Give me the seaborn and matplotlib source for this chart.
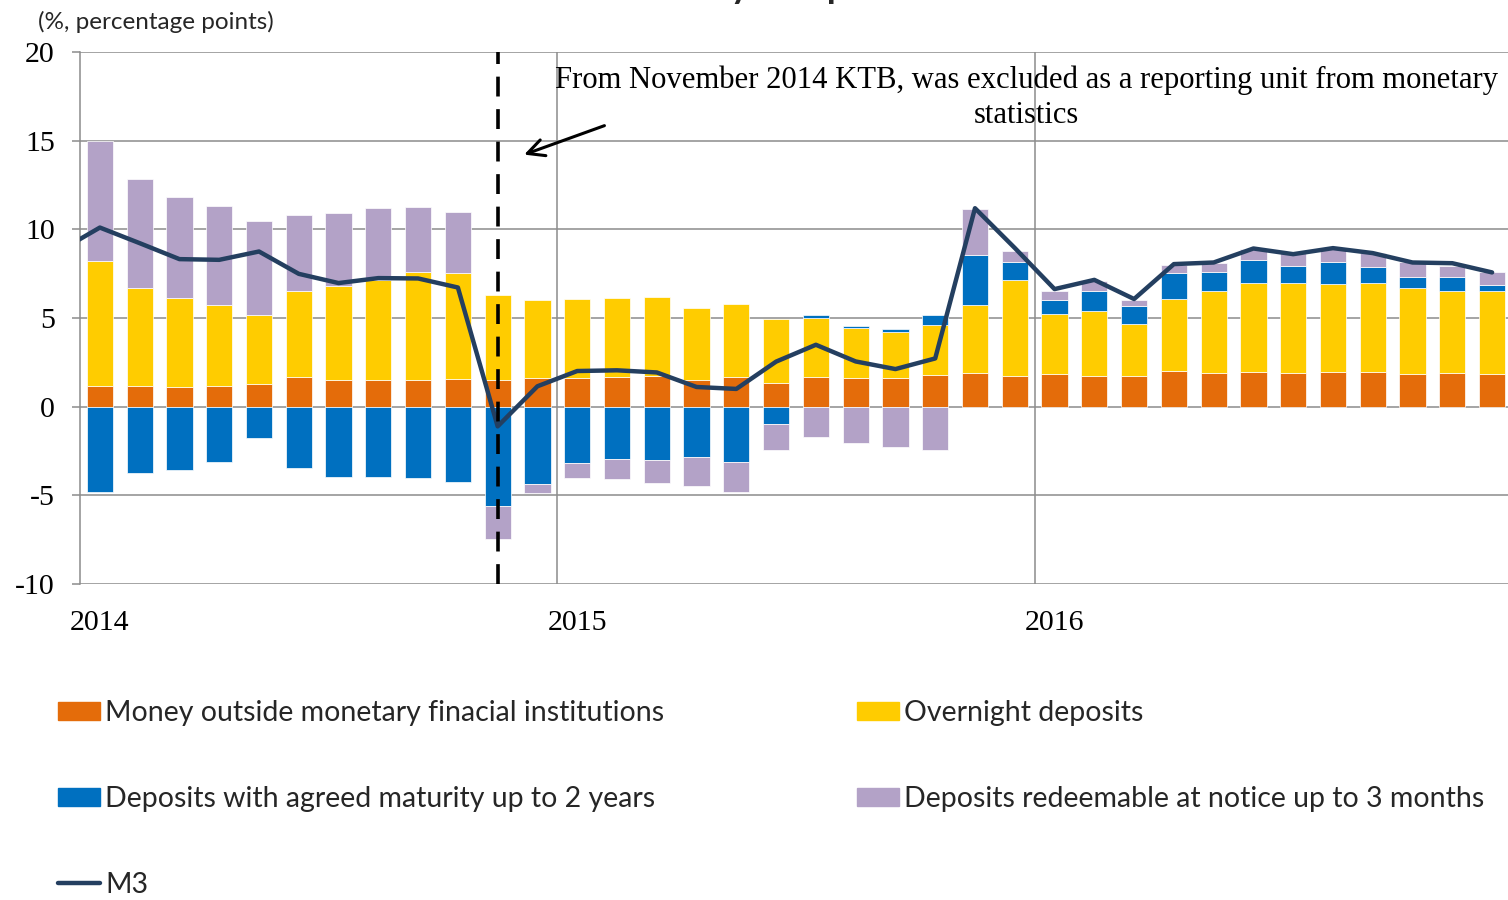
import numpy as np
import pandas as pd
import seaborn as sns
import matplotlib.pyplot as plt
from matplotlib.patches import Patch
from matplotlib.lines import Line2D

# Monthly contributions (percentage points), Jan 2014 - Dec 2016
months = pd.period_range("2014-01", "2016-12", freq="M").strftime("%Y-%m").tolist()

money_outside = [1.18, 1.18, 1.09, 1.14, 1.26, 1.65, 1.48, 1.48, 1.52, 1.58, 1.52, 1.63,
                 1.63, 1.65, 1.71, 1.52, 1.65, 1.31, 1.69, 1.59, 1.59, 1.77, 1.92, 1.75,
                 1.86, 1.71, 1.75, 1.99, 1.88, 1.93, 1.88, 1.93, 1.97, 1.86, 1.92, 1.86]
overnight = [7.05, 5.49, 5.01, 4.61, 3.92, 4.85, 5.30, 5.67, 6.05, 5.95, 4.79, 4.40,
             4.44, 4.47, 4.50, 4.06, 4.15, 3.61, 3.32, 2.82, 2.61, 2.85, 3.81, 5.39,
             3.38, 3.70, 2.89, 4.06, 4.62, 5.07, 5.11, 5.00, 5.03, 4.81, 4.62, 4.68]
agreed_maturity = [-4.79, -3.72, -3.55, -3.14, -1.78, -3.46, -3.98, -3.96, -4.02, -4.26, -5.58, -4.34,
                   -3.17, -2.95, -3.00, -2.84, -3.10, -0.96, 0.17, 0.15, 0.19, 0.56, 2.80, 0.99,
                   0.79, 1.13, 1.05, 1.48, 1.12, 1.28, 0.92, 1.24, 0.85, 0.67, 0.78, 0.33]
redeemable = [6.77, 6.16, 5.71, 5.57, 5.28, 4.32, 4.13, 4.04, 3.68, 3.46, -1.87, -0.52,
              -0.85, -1.11, -1.28, -1.63, -1.69, -1.46, -1.73, -2.03, -2.29, -2.44, 2.61, 0.62,
              0.51, 0.54, 0.32, 0.47, 0.47, 0.62, 0.75, 0.71, 0.81, 0.83, 0.59, 0.72]

# M3 growth (%), line starts one month before the first bar
m3_months = ["2013-12"] + months
m3 = [8.80, 10.10, 9.22, 8.32, 8.28, 8.75, 7.49, 6.97, 7.25, 7.23, 6.72, -1.11, 1.15,
      2.01, 2.05, 1.93, 1.11, 1.00, 2.54, 3.49, 2.55, 2.12, 2.72, 11.19, 8.95,
      6.63, 7.15, 6.07, 8.04, 8.13, 8.92, 8.60, 8.94, 8.66, 8.13, 8.09, 7.57]

series = [
    ("Money outside monetary finacial institutions", money_outside, "#E46C0A"),
    ("Overnight deposits", overnight, "#FFCC00"),
    ("Deposits with agreed maturity up to 2 years", agreed_maturity, "#0070C0"),
    ("Deposits redeemable at notice up to 3 months", redeemable, "#B3A2C7"),
]
line_color = "#243F60"
grid_color = "#8C8C8C"

sns.set_theme(style="white")
plt.rcParams["font.family"] = ["Lato", "DejaVu Sans"]
plt.rcParams["axes.unicode_minus"] = False

fig = plt.figure(figsize=(15.08, 9.0), dpi=100)
ax = fig.add_axes([80 / 1508, 1 - 584 / 900, 1428 / 1508, 532 / 900])

x = np.arange(len(months))
pos_base = np.zeros(len(months))
neg_base = np.zeros(len(months))
for name, vals, color in series:
    v = np.array(vals)
    bottom = np.where(v >= 0, pos_base, neg_base)
    ax.bar(x, v, bottom=bottom, width=0.66, color=color, edgecolor="white",
           linewidth=0.5, zorder=2)
    pos_base += np.where(v >= 0, v, 0)
    neg_base += np.where(v < 0, v, 0)

m3_x = np.arange(-1, len(months))
sns.lineplot(x=m3_x, y=m3, color=line_color, linewidth=3.2, ax=ax, zorder=4)

ax.set_ylim(-10, 20)
ax.set_xlim(-0.5, 35.4)
ax.set_yticks(range(-10, 21, 5))
ax.yaxis.grid(True, color=grid_color, linewidth=1.1, zorder=0)
ax.set_axisbelow(True)
for xv in (11.5, 23.5):
    ax.axvline(xv, color=grid_color, linewidth=1.1, zorder=1)

ax.set_xticks([0, 12, 24])
ax.set_xticklabels(["2014", "2015", "2016"])
serif = ["Liberation Serif", "DejaVu Serif"]
for lab in ax.get_xticklabels() + ax.get_yticklabels():
    lab.set_family(serif)
    lab.set_fontsize(21.5)
    lab.set_color("black")
ax.tick_params(axis="x", length=0, pad=19)
ax.tick_params(axis="y", length=6, width=1.1, color=grid_color, pad=12, direction="out", left=True)

for s in ("top", "right", "bottom"):
    ax.spines[s].set_visible(False)
ax.spines["left"].set_color(grid_color)
ax.spines["left"].set_linewidth(1.1)
ax.set_xlabel("")
ax.set_ylabel("")

# KTB exclusion marker
ax.axvline(10, color="black", linewidth=2.6, linestyle=(0, (5.5, 3.5)), zorder=5)
ax.text(23.3, 17.43, "From November 2014 KTB, was excluded as a reporting unit from monetary\nstatistics",
        ha="center", va="center", family=serif, fontsize=22.1, linespacing=1.3, color="black")
ax.annotate("", xy=(10.6, 14.16), xytext=(12.75, 15.9),
            arrowprops=dict(arrowstyle="->", color="black", lw=2.2, mutation_scale=30))

fig.text(38 / 1508, 1 - 22 / 900, "(%, percentage points)", fontsize=17.5, va="center", ha="left")
fig.text(834 / 1508, 1 + 2 / 900, "by components", fontsize=26, fontweight="bold",
         ha="center", va="baseline")

# Legend in two columns
h1 = [Patch(color=series[0][2]), Patch(color=series[2][2]),
      Line2D([0], [0], color=line_color, lw=3.2)]
l1 = [series[0][0], series[2][0], "M3"]
h2 = [Patch(color=series[1][2]), Patch(color=series[3][2])]
l2 = [series[1][0], series[3][0]]
leg_kw = dict(frameon=False, fontsize=20.5, handlelength=1.47, handleheight=0.6,
              handletextpad=0.18, labelspacing=2.1, borderpad=0, borderaxespad=0,
              loc="upper left")
fig.legend(h1, l1, bbox_to_anchor=(58 / 1508, 1 - 700 / 900), **leg_kw)
fig.legend(h2, l2, bbox_to_anchor=(857 / 1508, 1 - 700 / 900), **leg_kw)

fig.savefig("out.png", dpi=100)
plt.close(fig)
